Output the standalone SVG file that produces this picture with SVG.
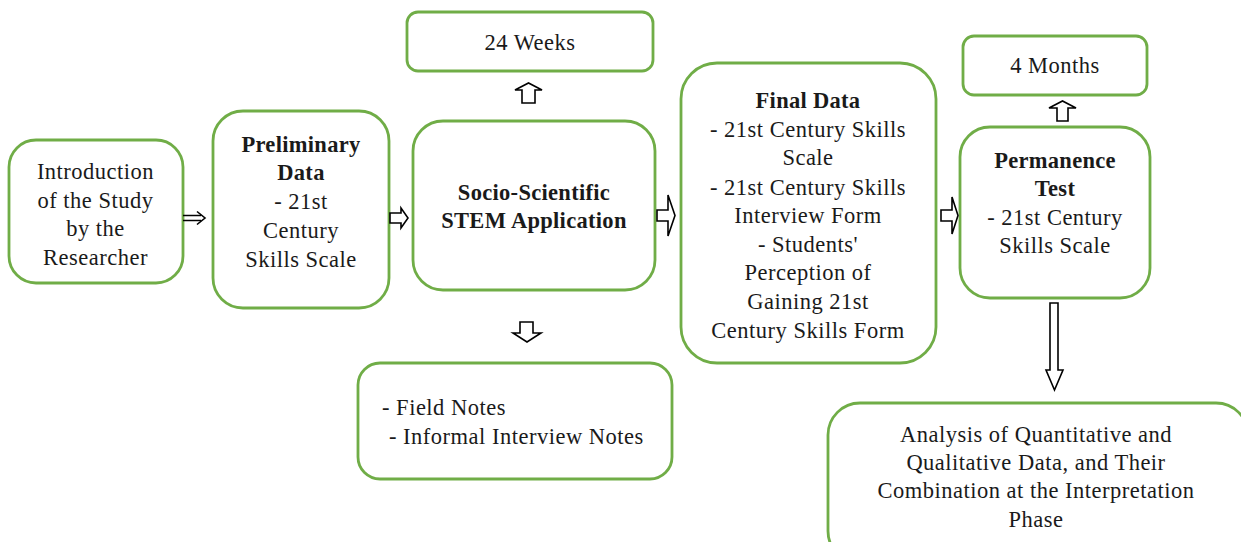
<svg xmlns="http://www.w3.org/2000/svg" width="1241" height="542" viewBox="0 0 1241 542">
  <style>
    .box { fill: #ffffff; stroke: #70ad47; stroke-width: 2.8; }
    .t { font-family: 'Liberation Serif', 'DejaVu Serif', 'Times New Roman', serif; font-size: 22.5px; letter-spacing: 0.5px; fill: #1a1a1a; text-anchor: middle; }
    .b { font-weight: bold; letter-spacing: 0.3px; }
    .l { text-anchor: start; }
    .blk { fill: #ffffff; stroke: #000000; stroke-width: 1.6; stroke-linejoin: miter; }
    .ln { fill: none; stroke: #000000; stroke-width: 1.6; }
  </style>
  <rect width="1241" height="542" fill="#ffffff"/>

  <g id="intro">
    <rect class="box" x="9" y="140" width="174" height="143" rx="27"/>
    <text class="t" x="95.5" y="179">Introduction</text>
    <text class="t" x="95.5" y="208">of the Study</text>
    <text class="t" x="95.5" y="236">by the</text>
    <text class="t" x="95.5" y="265">Researcher</text>
  </g>

  <g id="preliminary">
    <rect class="box" x="213" y="111" width="176" height="197" rx="30"/>
    <text class="t b" x="301" y="152">Preliminary</text>
    <text class="t b" x="301" y="180">Data</text>
    <text class="t" x="301" y="209">- 21st</text>
    <text class="t" x="301" y="238">Century</text>
    <text class="t" x="301" y="267">Skills Scale</text>
  </g>

  <g id="application">
    <rect class="box" x="413" y="121" width="242" height="169" rx="30"/>
    <text class="t b" x="534" y="200">Socio-Scientific</text>
    <text class="t b" x="534" y="228">STEM Application</text>
  </g>

  <g id="weeks">
    <rect class="box" x="407" y="12" width="246" height="59" rx="11"/>
    <text class="t" x="530" y="50">24 Weeks</text>
  </g>

  <g id="notes">
    <rect class="box" x="358" y="363" width="314" height="116" rx="22"/>
    <text class="t l" x="382" y="415">- Field Notes</text>
    <text class="t l" x="389" y="444">- Informal Interview Notes</text>
  </g>

  <g id="final">
    <rect class="box" x="681" y="63" width="255" height="300" rx="36"/>
    <text class="t b" x="808" y="108">Final Data</text>
    <text class="t" x="808" y="137">- 21st Century Skills</text>
    <text class="t" x="808" y="165">Scale</text>
    <text class="t" x="808" y="195">- 21st Century Skills</text>
    <text class="t" x="808" y="223">Interview Form</text>
    <text class="t" x="808" y="252">- Students'</text>
    <text class="t" x="808" y="280">Perception of</text>
    <text class="t" x="808" y="309">Gaining 21st</text>
    <text class="t" x="808" y="338">Century Skills Form</text>
  </g>

  <g id="months">
    <rect class="box" x="963" y="36" width="184" height="59" rx="11"/>
    <text class="t" x="1055" y="73">4 Months</text>
  </g>

  <g id="permanence">
    <rect class="box" x="960" y="127" width="190" height="171" rx="30"/>
    <text class="t b" x="1055" y="168">Permanence</text>
    <text class="t b" x="1055" y="196">Test</text>
    <text class="t" x="1055" y="225">- 21st Century</text>
    <text class="t" x="1055" y="253">Skills Scale</text>
  </g>

  <g id="analysis">
    <rect class="box" x="828" y="403" width="420" height="160" rx="32"/>
    <text class="t" x="1036" y="442">Analysis of Quantitative and</text>
    <text class="t" x="1036" y="470">Qualitative Data, and Their</text>
    <text class="t" x="1036" y="498">Combination at the Interpretation</text>
    <text class="t" x="1036" y="527">Phase</text>
  </g>

  <g id="connectors">
    <!-- double-line arrow -->
    <path class="ln" d="M183,215.5 H201 M183,220.5 H201"/>
    <path class="ln" d="M197,211.5 L205,218 L197,224.5"/>
    <!-- outlined block arrows -->
    <polygon class="blk" points="390,213 401,213 401,208 408,218 401,228 401,223 390,223"/>
    <polygon class="blk" points="657,210 668,210 668,195 675,215.5 668,236 668,221 657,221"/>
    <polygon class="blk" points="941,210 952,210 952,197 958,215.5 952,234 952,221 941,221"/>
    <polygon class="blk" points="522,103 522,90 515,90 528.5,83 542,90 535,90 535,103"/>
    <polygon class="blk" points="1057,121 1057,108 1049,108 1062.5,101 1076,108 1068,108 1068,121"/>
    <polygon class="blk" points="520,322 533,322 533,333 541,333 527,342 513,333 520,333"/>
    <polygon class="blk" points="1050,303 1058,303 1058,370 1063,370 1054.5,390 1046,370 1050,370"/>
  </g>
</svg>
